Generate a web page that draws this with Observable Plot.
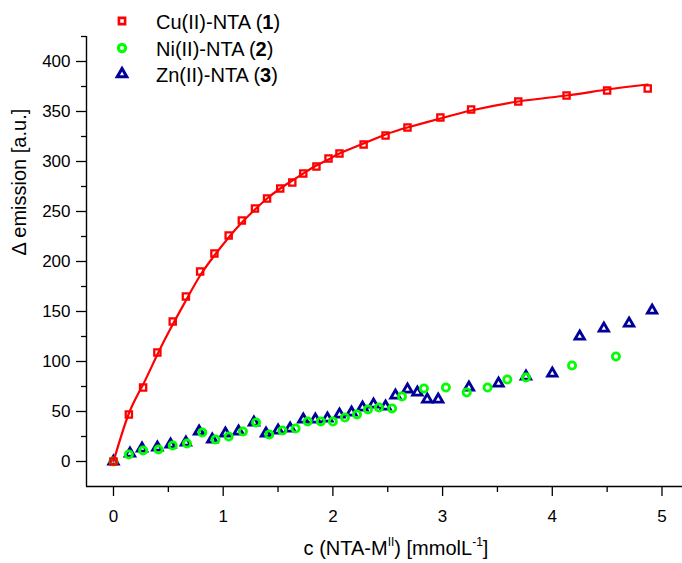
<!DOCTYPE html>
<html><head><meta charset="utf-8">
<script src="https://cdn.jsdelivr.net/npm/d3@7"></script>
<script src="https://cdn.jsdelivr.net/npm/@observablehq/plot@0.6"></script>
<style>
body{margin:0;background:#fff;}
#wrap{position:relative;width:682px;height:563px;}
</style></head><body><div id="wrap"></div>
<script>
// ---- data ----
const cuX = [0,0.14,0.27,0.40,0.54,0.66,0.79,0.92,1.05,1.17,1.29,1.40,1.52,1.63,1.73,1.85,1.96,2.06,2.28,2.48,2.68,2.98,3.26,3.69,4.13,4.50,4.87];
const cuY = [0,47,74,109,140,165,190,208,226,241,253,263,273,279,288,295,303,308,317,326,334,344,352,360,366,371,373];
const fitX = [0,0.14,0.27,0.40,0.54,0.67,0.79,0.92,1.05,1.17,1.29,1.40,1.52,1.63,1.73,1.85,1.96,2.06,2.28,2.48,2.68,2.98,3.26,3.69,4.13,4.50,4.87];
const fitY = [0,48,77,107,137,163,186,206,224,239,252,263,273,281,288,296,302,308,318,327,334,343,351,360,366,372,377];
const niX = [0,0.14,0.27,0.41,0.54,0.67,0.81,0.93,1.05,1.18,1.30,1.42,1.54,1.66,1.77,1.89,2.00,2.11,2.22,2.32,2.42,2.54,2.63,2.83,3.03,3.22,3.41,3.59,3.76,4.18,4.58];
const niY = [0,7,11,12,16,18,29,22,25,30,39,27,31,33,40,40,40,44,47,52,54,53,65,73,74,69,74,82,84,96,105];
const znX = [0,0.15,0.26,0.40,0.52,0.66,0.78,0.90,1.02,1.14,1.28,1.39,1.50,1.61,1.73,1.84,1.95,2.06,2.17,2.27,2.37,2.48,2.57,2.68,2.77,2.86,2.96,3.24,3.51,3.76,4.00,4.25,4.47,4.70,4.91];
const znY = [0,8,13,14,17,19,30,22,28,30,39,28,31,33,42,42,43,47,49,54,57,55,66,72,69,62,62,74,78,85,88,125,133,138,151];
const xTicks = [0,1,2,3,4,5];
const xMinor = [0.5,1.5,2.5,3.5,4.5];
const yTicks = [0,50,100,150,200,250,300,350,400];
const yMinor = [25,75,125,175,225,275,325,375,425];
const xDomain = [-0.246, 5.187];
const yDomain = [-25, 425];
const seriesNames = ["Cu(II)-NTA (", "Ni(II)-NTA (", "Zn(II)-NTA ("];
const seriesNums = ["1","2","3"];
const colors = ["#ff0000","#00ff00","#000099"];
const symbols = ["square","circle","triangle"];
const yLabel = "\u0394 emission [a.u.]";

const font = 'Arial, "Liberation Sans", Helvetica, sans-serif';
const cu = cuX.map((x,i)=>({x, y:cuY[i]}));
const fit = fitX.map((x,i)=>({x, y:fitY[i]}));
const ni = niX.map((x,i)=>({x, y:niY[i]}));
const zn = znX.map((x,i)=>({x, y:znY[i]}));

const rs = [3.5, 3.6, 3.5];
const sw = [2.3, 2.8, 2.8];

const chart = Plot.plot({
  width: 682, height: 563,
  marginLeft: 86, marginRight: 0, marginTop: 36, marginBottom: 77,
  style: {fontFamily: font, fontSize: "17px", color: "#000", background: "#fff", overflow: "visible"},
  x: {domain: xDomain},
  y: {domain: yDomain},
  marks: [
    Plot.ruleY([yDomain[0]], {stroke: "#000", strokeWidth: 1.4}),
    Plot.ruleX([xDomain[0]], {stroke: "#000", strokeWidth: 1.4}),
    Plot.axisX({ticks: xTicks, tickSize: 10, tickPadding: 13, tickFormat: d => String(d), label: null, fontSize: 17, strokeWidth: 1.3}),
    Plot.axisX({ticks: xMinor, tickSize: 6, tickFormat: () => "", label: null, strokeWidth: 1.3}),
    Plot.axisY({ticks: yTicks, tickSize: 10, tickPadding: 6, tickFormat: d => String(d), label: null, fontSize: 17, strokeWidth: 1.3}),
    Plot.axisY({ticks: yMinor, tickSize: 5, tickFormat: () => "", label: null, strokeWidth: 1.3}),
    Plot.text([yLabel], {frameAnchor: "left", rotate: -90, dx: -67, dy: -6, fontSize: 20, text: d => d}),
    Plot.dot(zn, {x: "x", y: "y", symbol: "triangle", r: rs[2], stroke: colors[2], strokeWidth: sw[2], fill: "none"}),
    Plot.dot(ni, {x: "x", y: "y", symbol: "circle", r: rs[1], stroke: colors[1], strokeWidth: sw[1], fill: "none"}),
    Plot.line(fit, {x: "x", y: "y", curve: "natural", stroke: colors[0], strokeWidth: 2.2}),
    Plot.dot(cu, {x: "x", y: "y", symbol: "square", r: rs[0], stroke: colors[0], strokeWidth: sw[0], fill: "none"})
  ]
});
document.getElementById("wrap").appendChild(chart);

const svg = d3.select(chart);
// x axis label with superscripts
const xl = svg.append("text").attr("x", 396).attr("y", 555).attr("text-anchor", "middle")
  .attr("font-family", font).attr("font-size", 20).attr("fill", "#000");
xl.append("tspan").text("c (NTA-M");
xl.append("tspan").attr("font-size", 12).attr("dy", -9).text("II");
xl.append("tspan").attr("dy", 9).text(") [mmolL");
xl.append("tspan").attr("font-size", 12).attr("dy", -9).text("-1");
xl.append("tspan").attr("dy", 9).text("]");

// legend
const sym = {square: d3.symbolSquare, circle: d3.symbolCircle, triangle: d3.symbolTriangle};
const rowsY = [21, 48, 74];
seriesNames.forEach((name, i) => {
  const g = svg.append("g");
  g.append("path")
    .attr("d", d3.symbol(sym[symbols[i]], Math.PI * rs[i] * rs[i])())
    .attr("transform", `translate(122,${rowsY[i]})`)
    .attr("fill", "none").attr("stroke", colors[i]).attr("stroke-width", sw[i] + 0.3);
  const t = g.append("text").attr("x", 156).attr("y", rowsY[i] + 8).attr("text-anchor", "start")
    .attr("font-family", font).attr("font-size", 20).attr("fill", "#000");
  t.append("tspan").text(name);
  t.append("tspan").attr("font-weight", "bold").text(seriesNums[i]);
  t.append("tspan").text(")");
});
</script>
</body></html>
